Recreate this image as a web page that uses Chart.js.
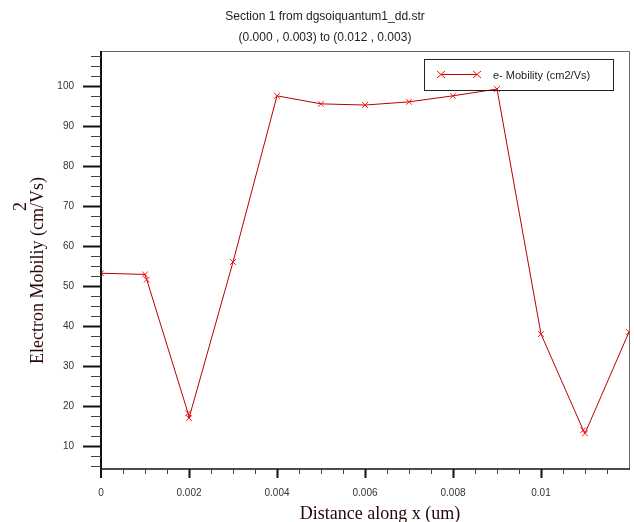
<!DOCTYPE html>
<html>
<head>
<meta charset="utf-8">
<style>
  html, body { margin: 0; padding: 0; background: #fff; }
  #wrap { width: 634px; height: 522px; position: relative; }
</style>
<script src="https://cdn.jsdelivr.net/npm/chart.js@4.4.1/dist/chart.umd.min.js"></script>
</head>
<body>
<div id="wrap"><canvas id="mobChart"></canvas></div>
<script>
// data
const distance = [0, 0.001, 0.00104, 0.00198, 0.002, 0.003, 0.004, 0.005, 0.006, 0.007, 0.008, 0.009, 0.01, 0.01096, 0.011, 0.012];
const mobility = [53.2, 52.9, 51.6, 18.2, 17.0, 56.0, 97.5, 95.5, 95.2, 96.0, 97.5, 99.2, 38.0, 14.0, 13.2, 38.5];
const xTickStep = 0.0005;
const xMajorStep = 0.002;
const yTickStep = 2.5;
const yMajorStep = 10;

const titleLines = ["Section 1 from dgsoiquantum1_dd.str", "(0.000 , 0.003) to (0.012 , 0.003)"];
const seriesLabel = "e- Mobility (cm2/Vs)";
const xTitle = "Distance along x (um)";

function isMajor(v, step) {
    const r = v / step;
    return Math.abs(r - Math.round(r)) < 1e-6;
}

// axes, frame, ticks, titles and legend box
const decorPlugin = {
    id: "decor",
    afterDraw(chart) {
        const ctx = chart.ctx;
        const a = chart.chartArea;
        const xs = chart.scales.x;
        const ys = chart.scales.y;
        ctx.save();

        // frame top/right
        ctx.strokeStyle = "#666";
        ctx.lineWidth = 1;
        ctx.beginPath();
        ctx.moveTo(a.left, a.top + 0.5);
        ctx.lineTo(a.right + 0.5, a.top + 0.5);
        ctx.lineTo(a.right + 0.5, a.bottom);
        ctx.stroke();

        // axis lines
        ctx.strokeStyle = "#111";
        ctx.lineWidth = 2;
        ctx.beginPath();
        ctx.moveTo(a.left, a.top);
        ctx.lineTo(a.left, a.bottom + 9);
        ctx.stroke();
        ctx.lineWidth = 1.5;
        ctx.beginPath();
        ctx.moveTo(a.left, a.bottom);
        ctx.lineTo(a.right + 1, a.bottom);
        ctx.stroke();

        // y ticks
        ys.ticks.forEach(t => {
            const py = Math.round(ys.getPixelForValue(t.value)) + 0.5;
            const major = isMajor(t.value, yMajorStep);
            ctx.strokeStyle = major ? "#111" : "#444";
            ctx.lineWidth = major ? 2 : 1;
            ctx.beginPath();
            ctx.moveTo(a.left - (major ? 18 : 10), py);
            ctx.lineTo(a.left, py);
            ctx.stroke();
        });

        // x ticks
        xs.ticks.forEach(t => {
            if (t.value <= xs.min || t.value >= xs.max) return;
            const px = Math.round(xs.getPixelForValue(t.value)) + 0.5;
            const major = isMajor(t.value, xMajorStep);
            ctx.strokeStyle = major ? "#111" : "#444";
            ctx.lineWidth = major ? 2 : 1;
            ctx.beginPath();
            ctx.moveTo(px, a.bottom);
            ctx.lineTo(px, a.bottom + (major ? 9 : 5));
            ctx.stroke();
        });

        // titles
        ctx.fillStyle = "#222";
        ctx.font = "12px 'Liberation Sans', Arial, sans-serif";
        ctx.textAlign = "center";
        ctx.textBaseline = "middle";
        ctx.fillText(titleLines[0], 325, 17);
        ctx.fillText(titleLines[1], 325, 38);

        // x axis title
        ctx.fillStyle = "#2a0606";
        ctx.font = "18px 'Liberation Serif', 'Times New Roman', serif";
        ctx.textBaseline = "alphabetic";
        ctx.fillText(xTitle, 380, 519);

        // y axis title with superscript 2
        ctx.save();
        ctx.translate(43, 364);
        ctx.rotate(-Math.PI / 2);
        ctx.textAlign = "left";
        const yMain = "Electron Mobiliy (cm/Vs)";
        ctx.fillText(yMain, 0, 0);
        const pre = ctx.measureText("Electron Mobiliy (cm/").width;
        ctx.fillText("2", pre - 8, -17);
        ctx.restore();

        // legend box
        ctx.strokeStyle = "#222";
        ctx.lineWidth = 1;
        ctx.strokeRect(424.5, 59.5, 189, 31);
        ctx.strokeStyle = "#c00000";
        ctx.beginPath();
        ctx.moveTo(441, 74.5);
        ctx.lineTo(477, 74.5);
        ctx.stroke();
        ctx.strokeStyle = "#ff1010";
        [441, 477].forEach(cx => {
            ctx.beginPath();
            ctx.moveTo(cx - 4, 71);
            ctx.lineTo(cx + 4, 78);
            ctx.moveTo(cx - 4, 78);
            ctx.lineTo(cx + 4, 71);
            ctx.stroke();
        });
        ctx.fillStyle = "#222";
        ctx.font = "11px 'Liberation Sans', Arial, sans-serif";
        ctx.textAlign = "left";
        ctx.textBaseline = "middle";
        ctx.fillText(seriesLabel, 493, 76);

        ctx.restore();
    }
};

const points = distance.map((x, i) => ({ x: x, y: mobility[i] }));

new Chart(document.getElementById("mobChart"), {
    type: "line",
    data: {
        datasets: [{
            label: seriesLabel,
            data: points,
            borderColor: "#b80000",
            borderWidth: 1,
            pointStyle: "crossRot",
            pointRadius: 4,
            pointBorderColor: "#ff1010",
            pointBorderWidth: 1,
            pointHoverRadius: 4,
            tension: 0,
            clip: 0,
        }],
    },
    options: {
        responsive: true,
        maintainAspectRatio: false,
        animation: false,
        layout: {
            padding: { top: 51, right: 5, left: 0, bottom: 0 },
        },
        plugins: {
            legend: { display: false },
            tooltip: { enabled: false },
        },
        scales: {
            x: {
                type: "linear",
                min: 0,
                max: 0.012,
                grid: { display: false, drawTicks: false },
                border: { display: false },
                afterFit: s => {
                    s.height = 53;
                    s.paddingLeft = 0;
                    s.paddingRight = 0;
                },
                ticks: {
                    stepSize: xTickStep,
                    autoSkip: false,
                    maxRotation: 0,
                    includeBounds: false,
                    padding: 18,
                    color: "#333",
                    font: { family: "'Liberation Sans', Arial, sans-serif", size: 10 },
                    callback: v => (isMajor(v, xMajorStep) && v < 0.012 - 1e-9) ? String(Number(v.toFixed(4))) : "",
                },
            },
            y: {
                min: 4.3,
                max: 108.7,
                grid: { display: false, drawTicks: false },
                border: { display: false },
                afterFit: s => {
                    s.width = 101;
                    s.paddingTop = 0;
                    s.paddingBottom = 0;
                },
                ticks: {
                    stepSize: yTickStep,
                    autoSkip: false,
                    includeBounds: false,
                    padding: 27,
                    color: "#333",
                    font: { family: "'Liberation Sans', Arial, sans-serif", size: 10 },
                    callback: v => isMajor(v, yMajorStep) ? String(Math.round(v)) : "",
                },
            },
        },
    },
    plugins: [decorPlugin],
});
</script>
</body>
</html>
